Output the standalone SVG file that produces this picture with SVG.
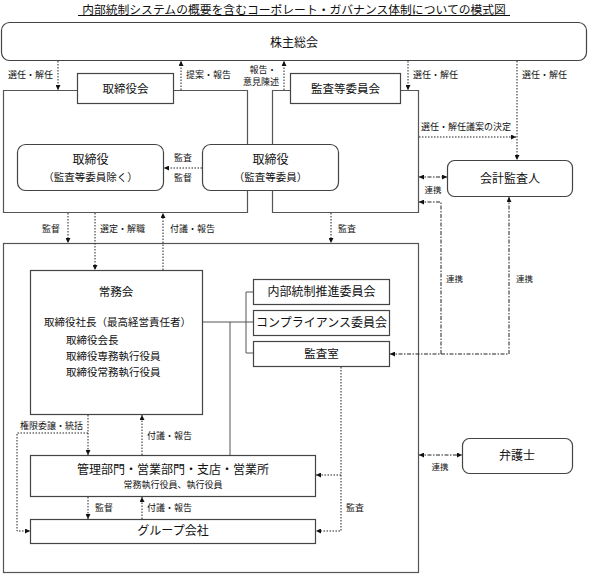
<svg xmlns="http://www.w3.org/2000/svg" width="589" height="574" viewBox="0 0 589 574">
<defs>
<marker id="ah" viewBox="0 0 6 6" refX="6" refY="3" markerWidth="5" markerHeight="5" markerUnits="userSpaceOnUse" orient="auto-start-reverse"><path d="M0,0 L6,3 L0,6 z" fill="#111"/></marker>
</defs>
<style>
text{font-family:"Noto Sans CJK JP","Noto Sans",sans-serif;fill:#111}
.tt{font-size:11.8px}
.t12{font-size:12px}
.t11{font-size:11.5px}
.t10{font-size:10.5px}
.t9{font-size:9px}
.t8{font-size:8.5px}
.m{text-anchor:middle}
.box{fill:#fff;stroke:#444;stroke-width:1.2}
.frame{fill:none;stroke:#555;stroke-width:1.2}
.dot{fill:none;stroke:#222;stroke-width:1;stroke-dasharray:1.5 1.5}
.dd{fill:none;stroke:#222;stroke-width:1;stroke-dasharray:4 1.5 1.5 1.5}
.sol{fill:none;stroke:#555;stroke-width:1}
.ae{marker-end:url(#ah)}
.as{marker-start:url(#ah)}
</style>
<rect width="589" height="574" fill="#fff"/>
<g id="title">
<text class="tt m" x="294" y="13.5">内部統制システムの概要を含むコーポレート・ガバナンス体制についての模式図</text>
<line x1="78" y1="15.5" x2="510" y2="15.5" stroke="#111" stroke-width="1"/>
</g>
<g id="frames">
<path class="frame" d="M77 90.5 H3.5 V212.5 H247.5 V90.5 H173"/>
<path class="frame" d="M290 90.5 H272.5 V212.5 H418.5 V90.5 H400"/>
<rect class="frame" x="3.5" y="243.5" width="415" height="329"/>
</g>
<g id="connectors">
<line class="dot ae" x1="58" y1="61" x2="58" y2="90"/>
<line class="dot ae" x1="181" y1="90" x2="181" y2="61"/>
<line class="dot ae" x1="284" y1="90" x2="284" y2="61"/>
<line class="dot ae" x1="408" y1="61" x2="408" y2="90"/>
<line class="dot ae" x1="517" y1="61" x2="517" y2="160"/>
<line class="dot ae" x1="419" y1="137" x2="516" y2="137"/>
<line class="dot ae" x1="202" y1="168" x2="164" y2="168"/>
<line class="dot ae" x1="68" y1="213" x2="68" y2="243"/>
<line class="dot ae" x1="95" y1="213" x2="95" y2="270"/>
<line class="dot ae" x1="163" y1="270" x2="163" y2="213"/>
<line class="dot ae" x1="331" y1="213" x2="331" y2="243"/>
<line class="dd as ae" x1="419" y1="177" x2="447" y2="177"/>
<path class="dd as ae" d="M390 354 H441 V202 H419"/>
<path class="dd as" d="M509 197 V354 H441"/>
<line class="dd as ae" x1="419" y1="455" x2="462" y2="455"/>
<path class="sol" d="M192 322 H253"/>
<path class="sol" d="M230 322 V455"/>
<path class="sol" d="M253 292 H246 V353 H253"/>
<line class="dot ae" x1="88" y1="415" x2="88" y2="455"/>
<line class="dot ae" x1="142" y1="455" x2="142" y2="415"/>
<path class="dot ae" d="M88 433 H17 V531 H30"/>
<line class="dot ae" x1="88" y1="497" x2="88" y2="519"/>
<line class="dot ae" x1="142" y1="519" x2="142" y2="497"/>
<path class="dot ae" d="M341 367 V531 H316"/>
<path class="dot ae" d="M341 475 H316"/>
</g>
<g id="labels">
<text class="t9" x="8" y="78">選任・解任</text>
<text class="t9" x="186" y="78">提案・報告</text>
<text class="t9 m" x="263" y="73">報告・</text>
<text class="t9 m" x="261" y="85">意見陳述</text>
<text class="t9" x="413" y="78">選任・解任</text>
<text class="t9" x="522" y="78">選任・解任</text>
<text class="t9" x="421" y="130">選任・解任議案の決定</text>
<text class="t9 m" x="183" y="161">監査</text>
<text class="t9 m" x="183" y="181">監督</text>
<text class="t8 m" x="433" y="193">連携</text>
<text class="t9" x="42" y="232">監督</text>
<text class="t9" x="100" y="232">選定・解職</text>
<text class="t9" x="170" y="232">付議・報告</text>
<text class="t9" x="338" y="232">監査</text>
<text class="t8" x="446" y="282">連携</text>
<text class="t8" x="516" y="282">連携</text>
<text class="t9" x="20" y="429">権限委譲・統括</text>
<text class="t9" x="147" y="439">付議・報告</text>
<text class="t9" x="95" y="511">監督</text>
<text class="t9" x="147" y="511">付議・報告</text>
<text class="t9" x="346" y="511">監査</text>
<text class="t8 m" x="440" y="470">連携</text>
</g>
<g id="shareholders">
<rect class="box" x="1.5" y="22.5" width="585" height="38" rx="8"/>
<text class="t12 m" x="294" y="47">株主総会</text>
</g>
<g id="board">
<rect class="box" x="77.5" y="73.5" width="96" height="30"/>
<text class="t11 m" x="125.5" y="93">取締役会</text>
</g>
<g id="audit-committee">
<rect class="box" x="290.5" y="73.5" width="110" height="30"/>
<text class="t11 m" x="345.5" y="93">監査等委員会</text>
</g>
<g id="directors">
<rect class="box" x="17.5" y="144.5" width="146" height="46" rx="8"/>
<text class="t12 m" x="90.5" y="164">取締役</text>
<text class="t10 m" x="90.5" y="181">（監査等委員除く）</text>
</g>
<g id="audit-directors">
<rect class="box" x="202.5" y="144.5" width="136" height="46" rx="8"/>
<text class="t12 m" x="270.5" y="164">取締役</text>
<text class="t10 m" x="270.5" y="181">（監査等委員）</text>
</g>
<g id="accounting-auditor">
<rect class="box" x="447.5" y="160.5" width="125" height="36" rx="7"/>
<text class="t12 m" x="510" y="183">会計監査人</text>
</g>
<g id="executive-committee">
<rect class="box" x="30.5" y="270.5" width="172" height="144"/>
<text class="t11 m" x="116" y="296">常務会</text>
<text class="t10" x="44" y="326">取締役社長（最高経営責任者）</text>
<text class="t10" x="66" y="344">取締役会長</text>
<text class="t10" x="66" y="360">取締役専務執行役員</text>
<text class="t10" x="66" y="376">取締役常務執行役員</text>
</g>
<g id="internal-control">
<rect class="box" x="253.5" y="279.5" width="136" height="25"/>
<text class="t12 m" x="321.5" y="296">内部統制推進委員会</text>
</g>
<g id="compliance">
<rect class="box" x="253.5" y="310.5" width="136" height="25"/>
<text class="t12 m" x="321.5" y="327">コンプライアンス委員会</text>
</g>
<g id="audit-office">
<rect class="box" x="253.5" y="341.5" width="136" height="25"/>
<text class="t11 m" x="321.5" y="358">監査室</text>
</g>
<g id="departments">
<rect class="box" x="30.5" y="455.5" width="285" height="41"/>
<text class="t12 m" x="173" y="474">管理部門・営業部門・支店・営業所</text>
<text class="t9 m" x="173" y="488">常務執行役員、執行役員</text>
</g>
<g id="group">
<rect class="box" x="30.5" y="519.5" width="285" height="24"/>
<text class="t12 m" x="173" y="535">グループ会社</text>
</g>
<g id="lawyer">
<rect class="box" x="462.5" y="438.5" width="110" height="35" rx="7"/>
<text class="t12 m" x="517" y="460">弁護士</text>
</g>
</svg>
